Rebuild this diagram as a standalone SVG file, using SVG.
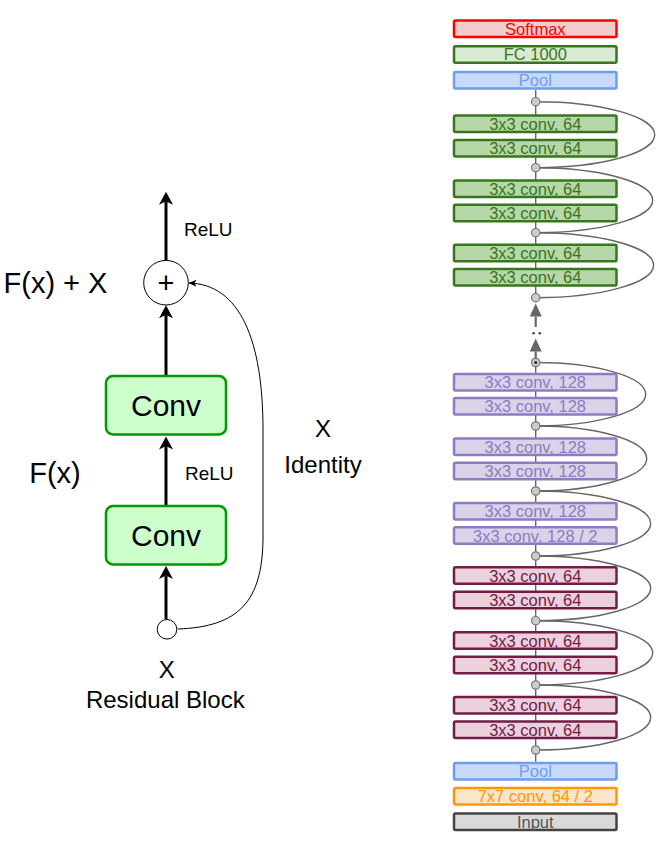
<svg xmlns="http://www.w3.org/2000/svg" width="659" height="845" viewBox="0 0 659 845">
<style>
text{font-family:"Liberation Sans",Arial,sans-serif}
.big{font-size:29px;fill:#000;text-anchor:middle}
.cv{font-size:30px;fill:#000;text-anchor:middle}
.mid{font-size:24px;fill:#000;text-anchor:middle}
.relu{font-size:19px;fill:#000}
.conv{fill:#ccffcc;stroke:#009900;stroke-width:2.5}
.thick{stroke:#000;stroke-width:3;fill:none}
.thin{stroke:#000;stroke-width:1;fill:none}
.row{stroke-width:2.5}
.rt{font-size:16.5px;text-anchor:middle}
.g{fill:#b6d7a8;stroke:#38761d}.gt{fill:#38761d}
.p{fill:#d9d2e9;stroke:#8e7cc3}.pt{fill:#8e7cc3}
.m{fill:#ead1dc;stroke:#741b47}.mt{fill:#741b47}
.b{fill:#c9daf8;stroke:#6d9eeb}.bt{fill:#6d9eeb}
.sk{stroke:#666;stroke-width:1.4;fill:none}
.nd{fill:#ccc;stroke:#777;stroke-width:1.2}
</style>
<defs>
<marker id="ah" markerUnits="userSpaceOnUse" markerWidth="14" markerHeight="14" refX="3.5" refY="7" orient="auto" viewBox="0 0 14 14">
<path d="M0,0 L13,7 L0,14 L3.5,7 Z" fill="#000"/>
</marker>
<marker id="ahs" markerUnits="userSpaceOnUse" markerWidth="9" markerHeight="8" refX="8" refY="3.5" orient="auto" viewBox="0 0 9 8">
<path d="M0,0 L8,3.5 L0,7 L2,3.5 Z" fill="#000"/>
</marker>
<marker id="ag" markerUnits="userSpaceOnUse" markerWidth="14" markerHeight="14" refX="0" refY="6" orient="auto" viewBox="0 0 14 12">
<path d="M0,0 L13,6 L0,12 Z" fill="#666"/>
</marker>
</defs>

<!-- Left: residual block -->
<g id="connectors-left">
<path class="thick" d="M166,260 L166,201.2" marker-end="url(#ah)"/>
<path class="thick" d="M166,375 L166,314.8" marker-end="url(#ah)"/>
<path class="thick" d="M166,505 L166,446" marker-end="url(#ah)"/>
<path class="thick" d="M166,619 L166,575.5" marker-end="url(#ah)"/>
<path class="thin" d="M177.5,629 C240,627 262,600 263,540 L263,430 C263,340 240,284 188.5,283" marker-end="url(#ahs)"/>
</g>
<g id="sum">
<circle cx="166" cy="282.7" r="22.3" fill="#fff" stroke="#000" stroke-width="1"/>
<text class="big" x="166" y="293">+</text>
</g>
<g id="conv-top">
<rect class="conv" x="106" y="376" width="120" height="58.5" rx="7"/>
<text class="cv" x="166" y="415.5">Conv</text>
</g>
<g id="conv-bottom">
<rect class="conv" x="106" y="506" width="120" height="58.5" rx="7"/>
<text class="cv" x="166" y="545.5">Conv</text>
</g>
<g id="input-x">
<circle cx="167" cy="629.3" r="9.8" fill="#fff" stroke="#000" stroke-width="1"/>
</g>
<g id="labels-left">
<text class="big" x="55.5" y="293">F(x) + X</text>
<text class="big" x="55" y="483">F(x)</text>
<text class="relu" x="184" y="236">ReLU</text>
<text class="relu" x="185" y="480">ReLU</text>
<text class="mid" x="323" y="437">X</text>
<text class="mid" x="323" y="473">Identity</text>
<text class="mid" x="166.7" y="678">X</text>
<text class="mid" x="165.3" y="708">Residual Block</text>
</g>

<!-- Right: ResNet column -->
<g id="connectors-right">
<line class="sk" x1="535.7" y1="90" x2="535.7" y2="297.7"/>
<line class="sk" x1="535.7" y1="362.5" x2="535.7" y2="761.7"/>
<path d="M535.7,327 L535.7,316.5" stroke="#666" stroke-width="2.2" marker-end="url(#ag)"/>
<path d="M535.7,358 L535.7,351.5" stroke="#666" stroke-width="2.2" marker-end="url(#ag)"/>
<circle cx="533.6" cy="333.3" r="1.3" fill="#444"/>
<circle cx="539.8" cy="333.3" r="1.3" fill="#444"/>
<path class="sk" d="M535.7,101.7 A119,33 0 0 1 535.7,167.7"/>
<path class="sk" d="M535.7,167.7 A117,32.5 0 0 1 535.7,232.7"/>
<path class="sk" d="M535.7,232.7 A118,32.5 0 0 1 535.7,297.7"/>
<path class="sk" d="M535.7,362.5 A110,31.75 0 0 1 535.7,426"/>
<path class="sk" d="M535.7,426 A111,32.5 0 0 1 535.7,491"/>
<path class="sk" d="M535.7,491 A115,32.5 0 0 1 535.7,556"/>
<path class="sk" d="M535.7,556 A115,32.35 0 0 1 535.7,620.7"/>
<path class="sk" d="M535.7,620.7 A117,32.15 0 0 1 535.7,685"/>
<path class="sk" d="M535.7,685 A115,32.5 0 0 1 535.7,750"/>
</g>
<g id="junctions">
<circle class="nd" cx="535.7" cy="101.7" r="4.2"/>
<circle class="nd" cx="535.7" cy="167.7" r="4.2"/>
<circle class="nd" cx="535.7" cy="232.7" r="4.2"/>
<circle class="nd" cx="535.7" cy="297.7" r="4.2"/>
<circle class="nd" cx="535.7" cy="362.5" r="4.2"/>
<circle cx="535.7" cy="362.5" r="1.5" fill="#222"/>
<circle class="nd" cx="535.7" cy="426" r="4.2"/>
<circle class="nd" cx="535.7" cy="491" r="4.2"/>
<circle class="nd" cx="535.7" cy="556" r="4.2"/>
<circle class="nd" cx="535.7" cy="620.7" r="4.2"/>
<circle class="nd" cx="535.7" cy="685" r="4.2"/>
<circle class="nd" cx="535.7" cy="750" r="4.2"/>
</g>

<g id="softmax"><rect class="row" x="454" y="20.5" width="162.5" height="16.5" rx="1.5" fill="#f4cccc" stroke="#ff0000"/><text class="rt" x="535.3" y="34.7" fill="#ff0000">Softmax</text></g>
<g id="fc1000"><rect class="row" x="454" y="46.2" width="162.5" height="16.5" rx="1.5" fill="#d9ead3" stroke="#38761d"/><text class="rt" x="535.3" y="60.4" fill="#38761d">FC 1000</text></g>
<g id="pool-top"><rect class="row b" x="454" y="72" width="162.5" height="16.5" rx="1.5"/><text class="rt bt" x="535.3" y="86.2">Pool</text></g>

<g id="g1"><rect class="row g" x="454" y="115.5" width="162.5" height="16.5" rx="1.5"/><text class="rt gt" x="535.3" y="129.7">3x3 conv, 64</text></g>
<g id="g2"><rect class="row g" x="454" y="140" width="162.5" height="16.5" rx="1.5"/><text class="rt gt" x="535.3" y="154.2">3x3 conv, 64</text></g>
<g id="g3"><rect class="row g" x="454" y="180.5" width="162.5" height="16.5" rx="1.5"/><text class="rt gt" x="535.3" y="194.7">3x3 conv, 64</text></g>
<g id="g4"><rect class="row g" x="454" y="204.8" width="162.5" height="16.5" rx="1.5"/><text class="rt gt" x="535.3" y="219">3x3 conv, 64</text></g>
<g id="g5"><rect class="row g" x="454" y="244.8" width="162.5" height="16.5" rx="1.5"/><text class="rt gt" x="535.3" y="259">3x3 conv, 64</text></g>
<g id="g6"><rect class="row g" x="454" y="269" width="162.5" height="16.5" rx="1.5"/><text class="rt gt" x="535.3" y="283.2">3x3 conv, 64</text></g>

<g id="p1"><rect class="row p" x="454" y="374" width="162.5" height="16.5" rx="1.5"/><text class="rt pt" x="535.3" y="388.2">3x3 conv, 128</text></g>
<g id="p2"><rect class="row p" x="454" y="398" width="162.5" height="16.5" rx="1.5"/><text class="rt pt" x="535.3" y="412.2">3x3 conv, 128</text></g>
<g id="p3"><rect class="row p" x="454" y="438.5" width="162.5" height="16.5" rx="1.5"/><text class="rt pt" x="535.3" y="452.7">3x3 conv, 128</text></g>
<g id="p4"><rect class="row p" x="454" y="462.8" width="162.5" height="16.5" rx="1.5"/><text class="rt pt" x="535.3" y="477">3x3 conv, 128</text></g>
<g id="p5"><rect class="row p" x="454" y="503" width="162.5" height="16.5" rx="1.5"/><text class="rt pt" x="535.3" y="517.2">3x3 conv, 128</text></g>
<g id="p6"><rect class="row p" x="454" y="527.3" width="162.5" height="16.5" rx="1.5"/><text class="rt pt" x="535.3" y="541.5">3x3 conv, 128 / 2</text></g>

<g id="m1"><rect class="row m" x="454" y="567.3" width="162.5" height="16.5" rx="1.5"/><text class="rt mt" x="535.3" y="581.5">3x3 conv, 64</text></g>
<g id="m2"><rect class="row m" x="454" y="591.8" width="162.5" height="16.5" rx="1.5"/><text class="rt mt" x="535.3" y="606">3x3 conv, 64</text></g>
<g id="m3"><rect class="row m" x="454" y="632.3" width="162.5" height="16.5" rx="1.5"/><text class="rt mt" x="535.3" y="646.5">3x3 conv, 64</text></g>
<g id="m4"><rect class="row m" x="454" y="656.8" width="162.5" height="16.5" rx="1.5"/><text class="rt mt" x="535.3" y="671">3x3 conv, 64</text></g>
<g id="m5"><rect class="row m" x="454" y="697" width="162.5" height="16.5" rx="1.5"/><text class="rt mt" x="535.3" y="711.2">3x3 conv, 64</text></g>
<g id="m6"><rect class="row m" x="454" y="721.5" width="162.5" height="16.5" rx="1.5"/><text class="rt mt" x="535.3" y="735.7">3x3 conv, 64</text></g>

<g id="pool-bottom"><rect class="row b" x="454" y="763" width="162.5" height="16.5" rx="1.5"/><text class="rt bt" x="535.3" y="777.2">Pool</text></g>
<g id="conv7"><rect class="row" x="454" y="788" width="162.5" height="16.5" rx="1.5" fill="#fce5cd" stroke="#ff9900"/><text class="rt" x="535.3" y="802.2" fill="#ff9900">7x7 conv, 64 / 2</text></g>
<g id="input"><rect class="row" x="454" y="813.5" width="162.5" height="16.5" rx="1.5" fill="#d9d9d9" stroke="#434343"/><text class="rt" x="535.3" y="827.7" fill="#555">Input</text></g>
</svg>
